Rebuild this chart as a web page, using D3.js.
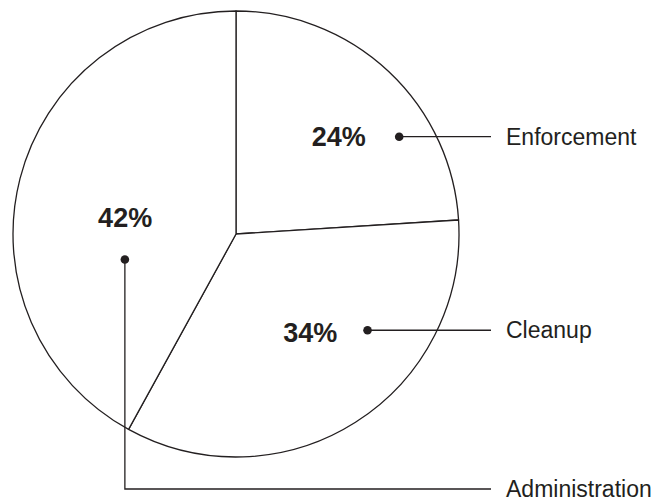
<!DOCTYPE html>
<html>
  <head>
    <meta charset="UTF-8" />
    <title>Budget shares</title>
    <script src="https://d3js.org/d3.v7.min.js"></script>
    <style>
      body {
        margin: 0;
        background: #fff;
      }
      svg text {
        font-family: "Liberation Sans", Arial, Helvetica, sans-serif;
        fill: #231f20;
      }
      .pct {
        font-weight: bold;
        font-size: 27px;
      }
      .name {
        font-size: 23px;
      }
    </style>
  </head>
  <body>
    <div id="chart"></div>
    <script>
      // slice data, clockwise from 12 o'clock
      const categories = ["Enforcement", "Cleanup", "Administration"];
      const shares = [24, 34, 42];

      // where each label sits, polar round the centre: [degrees, radius]
      const pctPolar = [[46.4, 142], [142.9, 123], [278.2, 112]];
      const dotPolar = [[59.2, 190], [126.2, 163], [257.1, 114]];

      const width = 659,
        height = 499;
      const cx = 236,
        cy = 234,
        radius = 223;
      const leaderEnd = 491; // x where leader lines stop
      const nameX = 506;
      const bottomY = 489; // administration leader runs along here
      const ink = "#231f20";

      const svg = d3
        .select("#chart")
        .append("svg")
        .attr("width", width)
        .attr("height", height);

      const g = svg.append("g").attr("transform", `translate(${cx},${cy})`);

      const pie = d3.pie().sort(null).value((d) => d);
      const arc = d3.arc().innerRadius(0).outerRadius(radius);

      g.selectAll("path.slice")
        .data(pie(shares))
        .enter()
        .append("path")
        .attr("class", "slice")
        .attr("d", arc)
        .attr("fill", "#fff")
        .attr("stroke", ink)
        .attr("stroke-width", 1.3)
        .attr("stroke-linejoin", "round");

      const toXY = ([deg, r]) => {
        const p = d3.pointRadial((deg * Math.PI) / 180, r);
        return [p[0] + cx, p[1] + cy];
      };

      const labels = categories.map((name, i) => ({
        name,
        value: shares[i],
        pct: toXY(pctPolar[i]),
        dot: toXY(dotPolar[i]),
      }));

      // leader lines
      labels.forEach((d, i) => {
        const [dx, dy] = d.dot;
        const pts =
          i === 2
            ? [[dx, dy], [dx, bottomY], [leaderEnd, bottomY]]
            : [[dx, dy], [leaderEnd, dy]];
        svg
          .append("path")
          .attr("d", d3.line()(pts))
          .attr("fill", "none")
          .attr("stroke", ink)
          .attr("stroke-width", 1.3);
        svg
          .append("text")
          .attr("class", "name")
          .attr("x", nameX)
          .attr("y", pts[pts.length - 1][1])
          .attr("dy", "0.35em")
          .text(d.name);
      });

      svg
        .selectAll("circle.dot")
        .data(labels)
        .enter()
        .append("circle")
        .attr("class", "dot")
        .attr("cx", (d) => d.dot[0])
        .attr("cy", (d) => d.dot[1])
        .attr("r", 4.3)
        .attr("fill", ink);

      svg
        .selectAll("text.pct")
        .data(labels)
        .enter()
        .append("text")
        .attr("class", "pct")
        .attr("x", (d) => d.pct[0])
        .attr("y", (d) => d.pct[1])
        .attr("dy", "0.35em")
        .attr("text-anchor", "middle")
        .text((d) => d.value + "%");
    </script>
  </body>
</html>
